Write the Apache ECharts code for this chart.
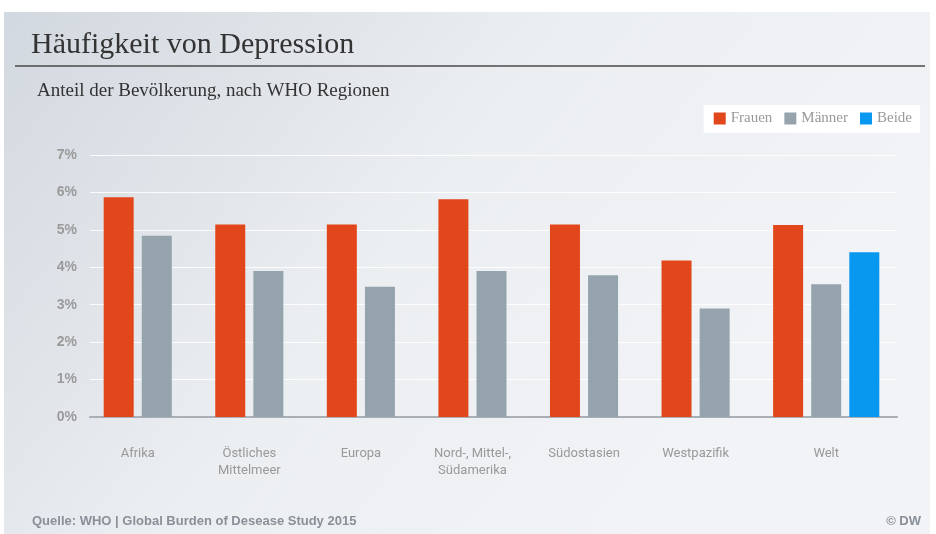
<!DOCTYPE html>
<html>
<head>
<meta charset="utf-8">
<title>Häufigkeit von Depression</title>
<script src="https://cdn.jsdelivr.net/npm/echarts@6/dist/echarts.min.js"></script>
<style>
    html, body { margin: 0; padding: 0; background: #fff; }
    #main { width: 936px; height: 534px; }
</style>
</head>
<body>
<div id="main"></div>
<script>
var regions = ['Afrika', 'Östliches\nMittelmeer', 'Europa', 'Nord-, Mittel-,\nSüdamerika', 'Südostasien', 'Westpazifik', 'Welt'];
var frauen = [5.87, 5.14, 5.14, 5.82, 5.14, 4.18, 5.13];
var maenner = [4.84, 3.9, 3.48, 3.9, 3.79, 2.9, 3.55];
var beide = [null, null, null, null, null, null, 4.4];
var yTicks = [0, 1, 2, 3, 4, 5, 6, 7];

var myChart = echarts.init(document.getElementById('main'));

// labels of groups with two bars sit under the pair, not under the slot centre
var xData = regions.map(function (r, i) {
    return beide[i] == null ? { value: r, textStyle: { padding: [0, 38, 0, 0] } } : r;
});

var sans = 'Roboto, "Liberation Sans", Arial, sans-serif';
var arial = '"Liberation Sans", Arial, sans-serif';
var serif = '"Liberation Serif", "DejaVu Serif", serif';

var option = {
    backgroundColor: '#fff',
    graphic: [
        {
            type: 'rect', z: -10, silent: true,
            shape: { x: 4, y: 12, width: 926, height: 522 },
            style: {
                fill: new echarts.graphic.LinearGradient(0, 0, 0.7, 1, [
                    { offset: 0, color: '#d2d8df' },
                    { offset: 0.55, color: '#eceff2' },
                    { offset: 1, color: '#f1f3f6' }
                ])
            }
        },
        {
            type: 'line', silent: true,
            shape: { x1: 15, y1: 66, x2: 925, y2: 66 },
            style: { stroke: '#4a4a4a', lineWidth: 1.5 }
        }
    ],
    title: [
        {
            text: 'Häufigkeit von Depression',
            left: 26, top: 25,
            textStyle: { fontFamily: serif, fontSize: 30, fontWeight: 'normal', color: '#333' }
        },
        {
            text: 'Anteil der Bevölkerung, nach WHO Regionen',
            left: 32, top: 77,
            textStyle: { fontFamily: serif, fontSize: 19, fontWeight: 'normal', color: '#333' }
        },
        {
            text: 'Quelle: WHO | Global Burden of Desease Study 2015',
            left: 27, top: 510,
            textStyle: { fontFamily: arial, fontSize: 13, fontWeight: 'bold', color: '#8a9098' }
        },
        {
            text: '© DW',
            right: 10, top: 510,
            textStyle: { fontFamily: arial, fontSize: 13, fontWeight: 'bold', color: '#8a9098' }
        }
    ],
    legend: {
        data: ['Frauen', 'Männer', 'Beide'],
        right: 16, top: 105,
        icon: 'rect',
        itemWidth: 12, itemHeight: 12, itemGap: 12,
        backgroundColor: '#fff',
        padding: [6, 8, 7, 10],
        textStyle: { fontFamily: serif, fontSize: 15, color: '#999' }
    },
    grid: [
        { left: 101, right: 54, top: 155, bottom: 117 },
        { left: 90, right: 39, top: 155, bottom: 117 }
    ],
    xAxis: [
        {
            type: 'category', gridIndex: 0,
            data: xData,
            axisLine: { show: false },
            axisTick: { show: false },
            axisLabel: { margin: 28, fontFamily: sans, fontSize: 13, lineHeight: 17, color: '#999', interval: 0 }
        },
        {
            type: 'value', gridIndex: 1, min: 0, max: 1,
            axisLine: { show: true, lineStyle: { color: '#a9afb5', width: 2 } },
            axisTick: { show: false },
            axisLabel: { show: false },
            splitLine: { show: false }
        }
    ],
    yAxis: [
        { type: 'value', gridIndex: 0, min: 0, max: 7, interval: 1, show: false },
        {
            type: 'value', gridIndex: 1,
            min: yTicks[0], max: yTicks[yTicks.length - 1], interval: 1,
            axisLine: { show: false },
            axisTick: { show: false },
            axisLabel: { margin: 13, formatter: '{value}%', fontFamily: arial, fontSize: 14, fontWeight: 'bold', color: '#9a9a9a' },
            splitLine: { lineStyle: { color: 'rgba(255,255,255,0.85)', width: 1 } }
        }
    ],
    series: [
        {
            name: 'Frauen', type: 'bar', xAxisIndex: 0, yAxisIndex: 0,
            barWidth: 30, barGap: '27%',
            itemStyle: { color: '#e2461b' },
            data: frauen
        },
        {
            name: 'Männer', type: 'bar', xAxisIndex: 0, yAxisIndex: 0,
            barWidth: 30, barGap: '27%',
            itemStyle: { color: '#95a3ad' },
            data: maenner
        },
        {
            name: 'Beide', type: 'bar', xAxisIndex: 0, yAxisIndex: 0,
            barWidth: 30, barGap: '27%',
            itemStyle: { color: '#0898f0' },
            data: beide
        }
    ]
};

myChart.setOption(option);
</script>
</body>
</html>
